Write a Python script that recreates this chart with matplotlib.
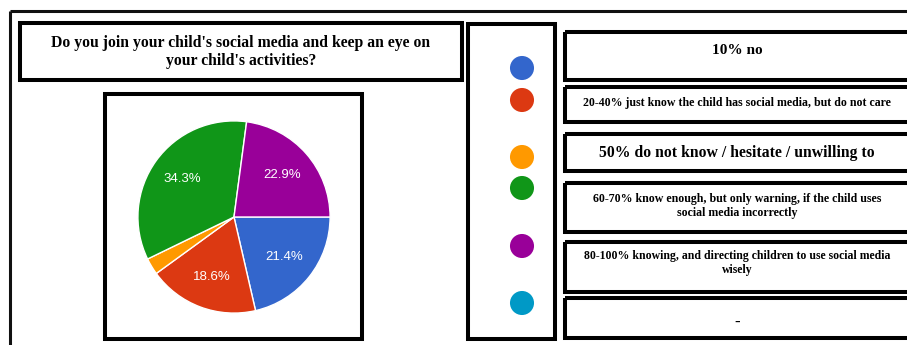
import matplotlib
matplotlib.use("Agg")
import matplotlib.pyplot as plt
from matplotlib.patches import Rectangle

# survey answers, clockwise from 3 o'clock
labels = ["10% no",
          "20-40% just know the child has social media, but do not care",
          "50% do not know / hesitate / unwilling to",
          "60-70% know enough, but only warning, if the child uses\nsocial media incorrectly",
          "80-100% knowing, and directing children to use social media\nwisely",
          "-"]
shares = [21.4, 18.6, 2.8, 34.3, 22.9]
colors = ["#3366CC", "#DC3912", "#FF9900", "#109618", "#990099", "#0099C6"]
label_sizes = [11, 8.6, 11.3, 8.6, 8.5, 12]
question = "Do you join your child's social media and keep an eye on\nyour child's activities?"

W, H = 907, 345
fig = plt.figure(figsize=(W / 100, H / 100), dpi=100)
fig.patch.set_facecolor("white")

# page layer in pixel units
ax = fig.add_axes([0, 0, 1, 1])
ax.set_xlim(0, W)
ax.set_ylim(H, 0)
ax.axis("off")

serif = "Liberation Serif"

def box(x0, y0, x1, y1, lw=2.9):
    ax.add_patch(Rectangle((x0, y0), x1 - x0, y1 - y0, fill=False,
                           edgecolor="black", linewidth=lw, clip_on=True))

# outer frame (only top and left visible)
ax.plot([10, W + 5], [11, 11], color="#111111", lw=2.2, solid_capstyle="butt")
ax.plot([10, 10], [11, H + 5], color="#111111", lw=2.2, solid_capstyle="butt")

# question box
box(20, 23, 462, 80)
ax.text(241, 52, question, ha="center", va="center", fontsize=11.3,
        fontweight="bold", family=serif, linespacing=1.2)

# pie frame
box(105, 94, 362, 339)

# legend marker column
box(468, 24, 555, 339)
dot_y = [68, 100, 157, 188, 246, 303]
ax.scatter([522] * len(colors), dot_y, s=300, c=colors, edgecolors="none", zorder=3)

# answer boxes, running off the right edge
rows = [(32, 80), (87, 122), (134, 171), (183, 232), (242, 292), (298, 338)]
text_y = [50, 103, 153, 206, 263, 323]
for (y0, y1), txt, ty, fs in zip(rows, labels, text_y, label_sizes):
    box(565, y0, W + 10, y1)
    ax.text(737, ty, txt, ha="center", va="center", fontsize=fs,
            fontweight="bold", family=serif, linespacing=1.25)

# pie chart
cx, cy, r = 234, 217, 98
pax = fig.add_axes([(cx - r) / W, (H - cy - r) / H, 2 * r / W, 2 * r / H])
wedges, _, autotexts = pax.pie(
    shares, colors=colors[:len(shares)], startangle=0, counterclock=False,
    autopct=lambda p: f"{p:.1f}%" if p >= 5 else "", pctdistance=0.67,
    wedgeprops=dict(edgecolor="white", linewidth=1),
    textprops=dict(color="white", fontsize=9.5, family="Liberation Sans"))
pax.set_xlim(-1.02, 1.02)
pax.set_ylim(-1.02, 1.02)
pax.set_aspect("equal")
pax.axis("off")

fig.savefig("out.png", dpi=100)
